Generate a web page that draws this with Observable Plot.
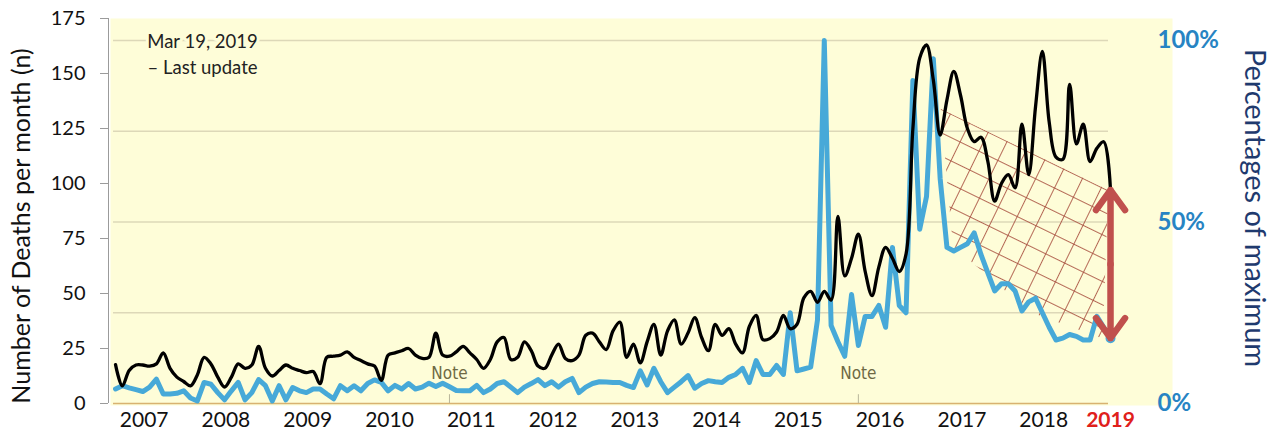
<!DOCTYPE html>
<html><head><meta charset="utf-8">
<script src="https://cdn.jsdelivr.net/npm/d3@7"></script>
<script src="https://cdn.jsdelivr.net/npm/@observablehq/plot@0.6"></script>
<style>
html,body{margin:0;padding:0;background:#fff;}
#chart{width:1280px;height:435px;}
</style></head><body><div id="chart"></div>
<script>
// ---- data (monthly, starting January 2007) ----
const startYear = 2007;
const deaths = [
 17.7, 8, 15, 17.5, 17.5, 17, 18, 23, 16, 12, 10, 8,
 13, 21, 18, 12, 7.5, 12, 18, 16, 17.5, 26, 16, 12.5,
 15, 17.5, 16, 15, 14, 14.5, 9, 21, 21.5, 22, 23.5, 21,
 19.5, 18, 17, 10.5, 22, 23, 24, 25, 22, 20.5, 21, 32,
 22, 21.5, 23.5, 26, 23, 20, 16, 20, 28, 30, 20, 21,
 28, 24, 17, 16, 22, 27, 20.5, 19.5, 22, 31, 32, 28,
 24.5, 33, 37, 21, 27, 18.5, 28, 36, 22, 33, 38, 27,
 32, 39, 30, 24, 36, 31, 34, 27, 23, 35, 40, 29,
 29.5, 32.5, 40, 34, 36, 48, 51, 46, 51, 47, 85, 58,
 66, 77, 60, 49, 62, 71, 66, 60, 68, 125, 157, 163,
 147, 122, 138, 151, 140, 125, 119, 121, 110, 92, 100, 104,
 98, 127, 104, 135, 160, 128, 112, 111, 145, 118, 127, 110,
 116, 119, 97
];
const percentOfMax = [
 4, 4.9, 4.3, 3.8, 3.3, 4.5, 6.7, 2.6, 2.6, 2.8, 3.5, 1.5,
 0.7, 5.8, 5.3, 3, 1, 3.5, 5.8, 1, 3, 6.6, 4.9, 0.7,
 4.9, 1, 4.4, 3.5, 3, 4, 4, 2.6, 1.3, 4.9, 3.5, 4.9,
 3.5, 5.5, 6.5, 5.8, 3.5, 5, 4, 5.5, 4, 4.5, 5.6, 4.7,
 5.6, 4.6, 3.6, 3.5, 3.5, 5, 3, 4, 5.5, 6, 4.5, 3,
 4.5, 5.5, 6.6, 4.9, 6, 4.5, 6, 6.9, 3, 4.5, 5.5, 6,
 5.9, 5.8, 5.8, 5, 4.4, 9, 5.1, 9.7, 6, 3, 4.5, 6,
 7.7, 4.2, 5.5, 6.3, 6, 5.8, 7.2, 8, 9.7, 5.8, 11.8, 8,
 8, 10.5, 8, 25, 9, 9.5, 10, 23, 100, 21.5, 17, 13,
 30, 16, 24, 24, 27, 21, 43, 27, 25, 89, 48, 57,
 95, 62, 43, 42, 43, 44, 47, 41, 36, 31, 33, 33,
 31, 25.5, 28, 29, 25, 21, 17.5, 18, 19, 18.5, 17.5, 17.5,
 24, 21, 18
];
const yearLabels = [2007, 2008, 2009, 2010, 2011, 2012, 2013, 2014, 2015, 2016, 2017, 2018];
const lastYearLabel = "2019";
const leftTicks = [0, 25, 50, 75, 100, 125, 150, 175];
const rightTicks = [0, 50, 100];
const gridPercents = [25, 50, 75, 100];
const maxDeaths = 165;                 // value that equals 100% on the right axis
const noteDates = [2011 + 1/12, 2016 + 1/12];
const updateText = "Mar 19, 2019\n– Last update";
// hatched "gap" annotation (year, deaths)
const hatchYears = [2017.09, 2019.14, 2019.07, 2018.19, 2017.24];
const hatchDeaths = [134, 97, 29.5, 41.5, 71.5];

// ---- derived tables ----
const months = deaths.map((v, i) => ({t: startYear + i / 12, deaths: v, pct: percentOfMax[i]}));
const pctScale = maxDeaths / 100;
const last = months[months.length - 1];
const hatch = hatchYears.map((t, i) => ({t, v: hatchDeaths[i]}));
const arrowTop = last.deaths, arrowBottom = last.pct * pctScale, arrowMid = (arrowTop + arrowBottom) / 2;
const arrows = [{x: last.t, y1: arrowMid, y2: arrowTop}, {x: last.t, y1: arrowMid, y2: arrowBottom}];
const xDomain = [2006.914, 2019.142];

const chart = Plot.plot({
  width: 1280, height: 435,
  marginLeft: 108, marginRight: 172, marginTop: 18, marginBottom: 32,
  style: {fontFamily: "Lato, 'Open Sans', sans-serif", background: "white", color: "#111", overflow: "visible"},
  x: {domain: xDomain},
  y: {domain: [0, 175]},
  marks: [
    Plot.frame({fill: "#FEFDD8", stroke: null, insetLeft: 2, insetRight: -64, insetBottom: -2}),
    Plot.ruleY(gridPercents.map(p => p * pctScale), {stroke: "#DDD8B8", strokeWidth: 1.5, insetLeft: 5}),
    Plot.ruleY([0], {stroke: "#D8B271", strokeWidth: 1.5, insetLeft: 5}),
    Plot.ruleX([xDomain[0]], {stroke: "#9b9b9b", strokeWidth: 1}),
    Plot.line(hatch, {x: "t", y: "v", fill: "url(#crosshatch)", stroke: "none"}),
    Plot.ruleX(noteDates, {y1: 0, y2: 4, stroke: "#b8b59a"}),
    Plot.text(noteDates, {x: d => d, frameAnchor: "bottom", dy: -25, text: () => "Note",
      fontFamily: "'Liberation Sans Narrow', 'DejaVu Sans Condensed', sans-serif", fontStretch: "condensed", fontSize: 17, fill: "#6E6944"}),
    Plot.line(months, {x: "t", y: d => d.pct * pctScale, stroke: "#47A9D8", strokeWidth: 5, strokeLinejoin: "round"}),
    Plot.dot([last], {x: "t", y: d => d.pct * pctScale, r: 4, stroke: "#47A9D8", fill: "#DDF0F8", strokeWidth: 2}),
    Plot.line(months, {x: "t", y: "deaths", stroke: "#000", strokeWidth: 3.3, curve: "catmull-rom"}),
    Plot.arrow(arrows, {x: "x", y1: "y1", y2: "y2", stroke: "#C0504D", strokeWidth: 6.5, headLength: 32, headAngle: 72, strokeLinecap: "round"}),
    Plot.text([updateText], {frameAnchor: "top-left", dx: 94, dy: 11, textAnchor: "middle", lineAnchor: "top",
      lineHeight: 1.4, fontSize: 18.5, fill: "#222", stroke: "#FEFDD8", strokeWidth: 6}),
    Plot.axisY({anchor: "left", ticks: leftTicks, tickSize: 8, tickPadding: 15, fontSize: 20, stroke: "#9b9b9b", fill: "#111"}),
    Plot.axisY({anchor: "right", ticks: rightTicks.map(p => p * pctScale), tickFormat: d => Math.round(d / pctScale) + "%",
      tickSize: 0, tickPadding: 49, fontSize: 24, fontWeight: "bold", fill: "#2784C3"}),
    Plot.axisX({ticks: yearLabels.map(y => y + 0.35), tickFormat: d => String(Math.round(d - 0.35)),
      tickSize: 0, tickPadding: 9, fontSize: 21, fill: "#111"}),
    Plot.axisX({ticks: [last.t], tickFormat: () => lastYearLabel, tickSize: 0, tickPadding: 9, fontSize: 21, fontWeight: "bold", fill: "#E0201B"}),
    Plot.text(["Number of Deaths per month (n)"], {frameAnchor: "left", textAnchor: "middle", dx: -87, dy: 15, rotate: -90, fontSize: 25, fill: "#111"}),
    Plot.text(["Percentages of maximum"], {frameAnchor: "right", textAnchor: "middle", dx: 146, dy: -3, rotate: 90, fontSize: 29, fill: "#1F3A6E"})
  ]
});

const svg = d3.select(chart);
const defs = svg.insert("defs", ":first-child");
const pat = defs.append("pattern").attr("id", "crosshatch").attr("patternUnits", "userSpaceOnUse")
  .attr("width", 21).attr("height", 21).attr("patternTransform", "rotate(26)");
pat.append("path").attr("d", "M0,0.5H21M0.5,0V21").attr("stroke", "#A8503F").attr("stroke-width", 1).attr("fill", "none").attr("opacity", 0.85);
document.getElementById("chart").appendChild(chart);
</script></body></html>
